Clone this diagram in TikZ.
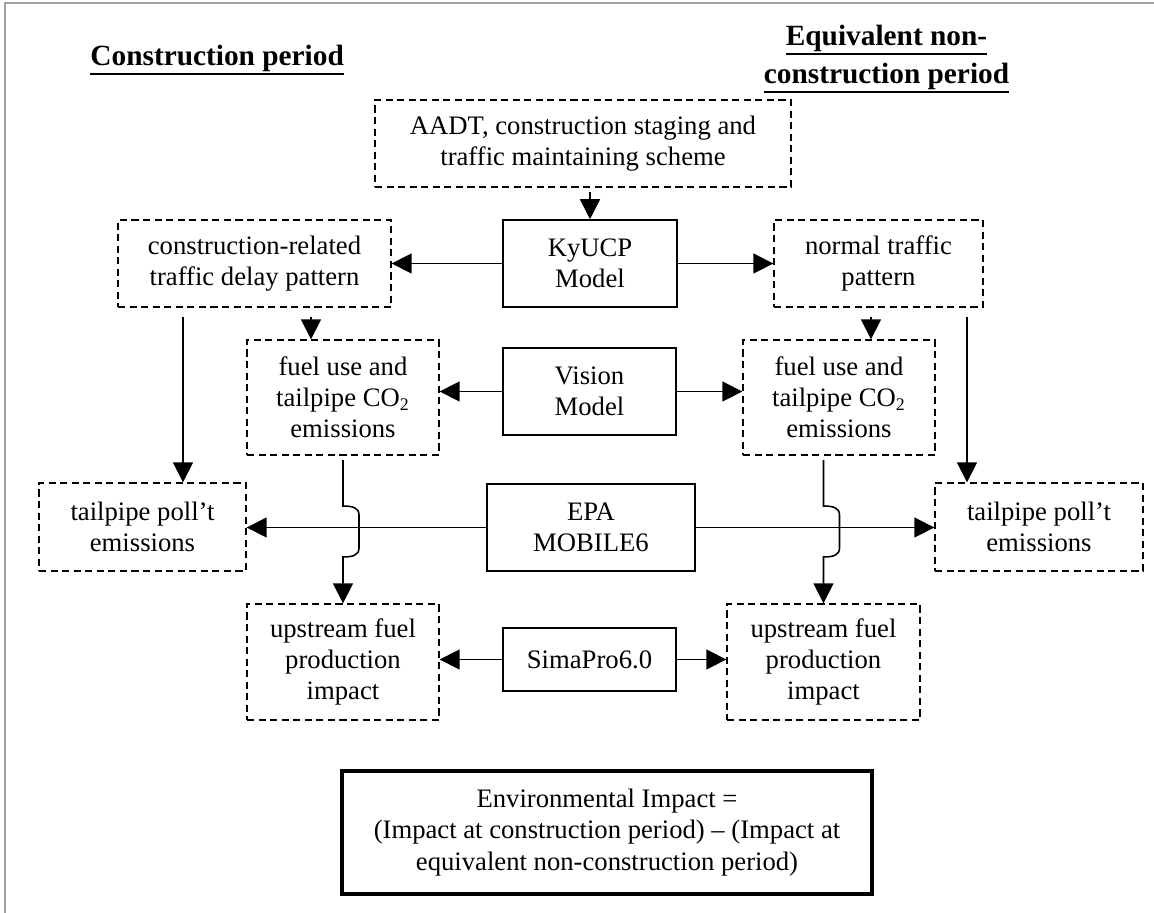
\documentclass[tikz,border=0pt]{standalone}
\usepackage{fontspec}
\setmainfont{Liberation Serif}
\usetikzlibrary{arrows.meta}

% underlined heading text with a heavier rule
\newcommand{\ttlul}[1]{\leavevmode\vtop{\hbox{#1}\kern0.4pt\hrule height 0.9pt}}

\begin{document}
\begin{tikzpicture}[x=0.45pt,y=0.45pt,yscale=-1,xscale=1,
    dbox/.style={draw, dash pattern=on 3.2pt off 2pt, line width=0.6pt, inner sep=0pt, align=center, font=\fontsize{12}{14}\selectfont},
    sbox/.style={draw, line width=0.7pt, inner sep=0pt, align=center, font=\fontsize{12}{14}\selectfont},
    arw/.style={-{Triangle[length=9pt,width=9pt]}, line width=0.7pt},
    gap/.style={shorten <=4pt},
    ttl/.style={inner sep=0pt, align=center, font=\fontsize{13.2}{17}\selectfont\bfseries}]
    \useasboundingbox (0,0) rectangle (1154,913);
    %Straight Lines [frame]
    \draw [color={rgb, 255:red, 160; green, 160; blue, 160 }, line width=0.9pt] (5,913) -- (5,3) -- (1154,3) ;

    % Text Node
    \node [ttl, anchor=base west] (ttlCon) at (90,66) {\ttlul{Construction period}};
    % Text Node
    \node [ttl, anchor=north] (ttlEqu) at (886.5,25) {\ttlul{Equivalent non-}\\\ttlul{construction period}};

    %Shape: Rectangle [aadt]
    \node [dbox, minimum width=187.2pt, minimum height=39.15pt] (aadt) at (583,143.5) {AADT, construction staging and\\traffic maintaining scheme};
    %Shape: Rectangle [kyucp]
    \node [sbox, minimum width=78.3pt, minimum height=39.15pt] (kyucp) at (590,263.5) {KyUCP\\Model};
    %Shape: Rectangle [dly]
    \node [dbox, minimum width=122.85pt, minimum height=39.15pt] (dly) at (254.5,263.5) {construction-related\\traffic delay pattern};
    %Shape: Rectangle [norm]
    \node [dbox, minimum width=94.05pt, minimum height=39.15pt] (norm) at (878.5,263.5) {normal traffic\\pattern};
    %Shape: Rectangle [vision]
    \node [sbox, minimum width=77.85pt, minimum height=39.15pt] (vision) at (589.5,391.5) {Vision\\Model};
    %Shape: Rectangle [fuelL]
    \node [dbox, minimum width=86.4pt, minimum height=51.75pt] (fuelL) at (343,397.5) {fuel use and\\tailpipe CO\textsubscript{2}\\emissions};
    %Shape: Rectangle [fuelR]
    \node [dbox, minimum width=86.4pt, minimum height=51.75pt] (fuelR) at (839,397.5) {fuel use and\\tailpipe CO\textsubscript{2}\\emissions};
    %Shape: Rectangle [epa]
    \node [sbox, minimum width=93.6pt, minimum height=39.15pt] (epa) at (591,527.5) {EPA\\MOBILE6};
    %Shape: Rectangle [tailL]
    \node [dbox, minimum width=93.15pt, minimum height=39.6pt] (tailL) at (142.5,527) {tailpipe poll’t\\emissions};
    %Shape: Rectangle [tailR]
    \node [dbox, minimum width=93.6pt, minimum height=39.6pt] (tailR) at (1039,527) {tailpipe poll’t\\emissions};
    %Shape: Rectangle [sima]
    \node [sbox, minimum width=77.85pt, minimum height=28.35pt] (sima) at (589.5,659.5) {SimaPro6.0};
    %Shape: Rectangle [upL]
    \node [dbox, minimum width=86.4pt, minimum height=52.2pt] (upL) at (343,662) {upstream fuel\\production\\impact};
    %Shape: Rectangle [upR]
    \node [dbox, minimum width=86.85pt, minimum height=52.2pt] (upR) at (823.5,662) {upstream fuel\\production\\impact};
    %Shape: Rectangle [env]
    \node [sbox, line width=1.6pt, minimum width=238.5pt, minimum height=55.35pt] (env) at (607,832.5) {Environmental Impact =\\(Impact at construction period) -- (Impact at\\equivalent non-construction period)};

    % arrow columns
    \coordinate (colL) at (311,0);
    \coordinate (colR) at (871,0);
    \coordinate (farL) at (183,0);
    \coordinate (farR) at (967,0);

    %Straight Lines
    \draw [arw, shorten <=2pt] (aadt.south -| kyucp.north) -- (kyucp.north) ;
    \draw [arw] (kyucp.west) -- (kyucp.west -| dly.east) ;
    \draw [arw] (kyucp.east) -- (kyucp.east -| norm.west) ;
    %Straight Lines
    \draw [arw, gap] (dly.south -| colL) -- (fuelL.north -| colL) ;
    \draw [arw, gap] (norm.south -| colR) -- (fuelR.north -| colR) ;
    \draw [arw, gap] (dly.south -| farL) -- (tailL.north -| farL) ;
    \draw [arw, gap] (norm.south -| farR) -- (tailR.north -| farR) ;
    %Straight Lines
    \draw [arw] (vision.west) -- (vision.west -| fuelL.east) ;
    \draw [arw] (vision.east) -- (vision.east -| fuelR.west) ;
    \draw [arw] (epa.west) -- (epa.west -| tailL.east) ;
    \draw [arw] (epa.east) -- (epa.east -| tailR.west) ;
    %Curve Lines [jump over the EPA lines]
    \draw [arw, shorten <=2pt] (fuelL.south) -- (343,506) .. controls (353,506) and (359,508) .. (359,515) -- (359,548) .. controls (359,555) and (353,557) .. (343,557) -- (upL.north) ;
    \draw [arw, shorten <=2pt] (fuelR.south -| upR.north) -- (823.5,506) .. controls (833.5,506) and (839.5,508) .. (839.5,515) -- (839.5,548) .. controls (839.5,555) and (833.5,557) .. (823.5,557) -- (upR.north) ;
    %Straight Lines
    \draw [arw] (sima.west) -- (sima.west -| upL.east) ;
    \draw [arw] (sima.east) -- (sima.east -| upR.west) ;
\end{tikzpicture}
\end{document}
